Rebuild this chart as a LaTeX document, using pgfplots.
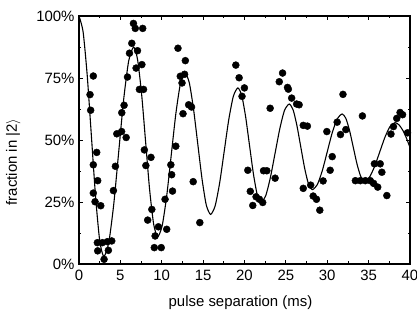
\documentclass[border=0pt]{standalone}
\usepackage{pgfplots}
\pgfplotsset{compat=1.18}
\usepackage{fontspec}
\setmainfont{Liberation Sans}
\begin{document}
\begin{tikzpicture}
\path[use as bounding box] (-79bp,-49bp) rectangle (338bp,264bp);
\begin{axis}[
  at={(0,0)}, anchor=south west,
  scale only axis, width=331bp, height=248bp,
  xmin=0, xmax=40, ymin=0, ymax=100,
  xtick={0,5,...,40}, ytick={0,25,50,75,100},
  minor x tick num=1, minor y tick num=1,
  tick pos=both, tick align=inside,
  major tick length=4bp, minor tick length=2.5bp,
  axis line style={line width=1.1pt},
  every tick/.style={black, line width=0.8pt},
  /pgf/number format/assume math mode=true,
  yticklabel={\pgfmathprintnumber{\tick}\%},
  tick label style={font=\fontsize{15}{17}\selectfont},
  xticklabel style={yshift=-3bp},
  yticklabel style={xshift=-1bp},
  xlabel={pulse separation (ms)},
  ylabel={fraction in |2$\rangle$},
  label style={font=\fontsize{15}{17}\selectfont},
  xlabel style={yshift=-8bp, xshift=-4bp},
  ylabel style={yshift=9bp, xshift=-22bp},
  clip=false,
]
\addplot[black, line width=1.1pt, smooth, tension=0.4] coordinates {
(0,100) (0.5,93.5) (1.0,75.75) (1.5,51.5) (2.0,27.25) (2.5,9.5) (3.0,3)
(3.6,8.7) (4.2,24.1) (4.8,45.25) (5.4,66.4) (6.0,81.8) (6.6,87.5)
(7.08,82.4) (7.57,68.4) (8.05,49.25) (8.53,30.1) (9.02,16.1) (9.5,11)
(10.05,15.4) (10.6,27.5) (11.15,44) (11.7,60.5) (12.25,72.6) (12.8,77)
(13.32,73.2) (13.83,62.75) (14.35,48.5) (14.87,34.25) (15.38,23.8) (15.9,20)
(16.45,23.4) (17.0,32.75) (17.55,45.5) (18.1,58.25) (18.65,67.6) (19.2,71)
(19.67,67.9) (20.13,59.5) (20.6,48) (21.07,36.5) (21.53,28.1) (22.0,25)
(22.57,27.6) (23.13,34.9) (23.7,44.75) (24.27,54.6) (24.83,61.9) (25.4,64.5)
(25.87,62.2) (26.33,55.9) (26.8,47.25) (27.27,38.6) (27.73,32.3) (28.2,30)
(28.8,32.0) (29.4,37.6) (30.0,45.25) (30.6,52.9) (31.2,58.5) (31.8,60.5)
(32.25,58.7) (32.7,53.75) (33.15,47) (33.6,40.25) (34.05,35.3) (34.5,33.5)
(35.12,35.1) (35.73,39.4) (36.35,45.25) (36.97,51.1) (37.58,55.4) (38.2,57)
(38.7,56) (39.2,53.5) (39.6,50.5) (40,47)
};
\addplot[only marks, mark=*, mark size=3.5bp, black] coordinates {
(1.33,68.3) (1.41,62) (1.73,75.8) (2.14,45) (1.73,40) (2.26,33.6) (1.73,28.6)
(1.94,25.1) (2.63,23.5) (2.22,8.6) (2.82,8.6) (3.43,9.0) (3.96,9.3) (2.26,5.3)
(3.55,5.5) (3.03,1.9) (4.16,29.6) (4.40,39.4) (4.57,52.5) (5.15,53.4) (5.70,51)
(5.17,61) (5.45,64) (5.86,75.4) (6.10,85) (6.38,89) (6.58,97) (6.80,95) (7.70,95)
(7.07,86) (6.90,79) (7.60,80.4) (7.30,70.4) (7.80,70.4) (7.90,46) (8.70,43)
(8.08,39.7) (8.80,22) (8.30,17.7) (9.60,15) (10.60,14) (9.20,11.3) (9.10,6.6)
(9.94,6.6) (10.40,26.1) (11.30,29.4) (11.10,40) (11.20,36) (11.70,47.5)
(11.96,87) (12.85,82) (12.24,75.7) (12.76,76.5) (12.45,73) (13.25,64.2)
(13.60,63.3) (12.57,60.6) (13.80,33.2) (14.60,16.7)
(18.95,80.2) (19.35,75.1) (19.99,71.0) (19.70,67.6) (20.40,37.8) (22.30,37.6)
(22.70,37.6) (23.70,34.6) (20.70,29.3) (21.40,27.1) (21.80,26.1) (21.00,23.6)
(22.20,24.8) (23.10,62.8) (24.60,77.0) (24.20,73.5) (25.20,71.2) (25.30,70.5)
(25.70,66.9) (26.30,64.5) (26.60,64.2) (27.10,55.9) (27.60,55.6) (27.10,30.5)
(28.00,31.8) (28.30,27.4) (28.70,26.1) (29.10,21.7) (29.50,33.5) (29.95,53.4)
(30.35,37.8) (30.60,43.3) (31.20,57.2) (31.60,52.2) (32.25,54.2) (31.90,68.4)
(34.25,59.7) (33.40,33.6) (34.00,33.6) (34.60,33.6) (35.20,33.6) (35.70,40.4)
(36.40,40.4) (36.60,37) (35.60,32.5) (36.10,31) (37.20,27.6) (37.70,52.4)
(38.00,55.4) (38.40,58.7) (38.80,61.1) (39.10,60.2) (39.70,52.9)
};
\end{axis}
\end{tikzpicture}
\end{document}
